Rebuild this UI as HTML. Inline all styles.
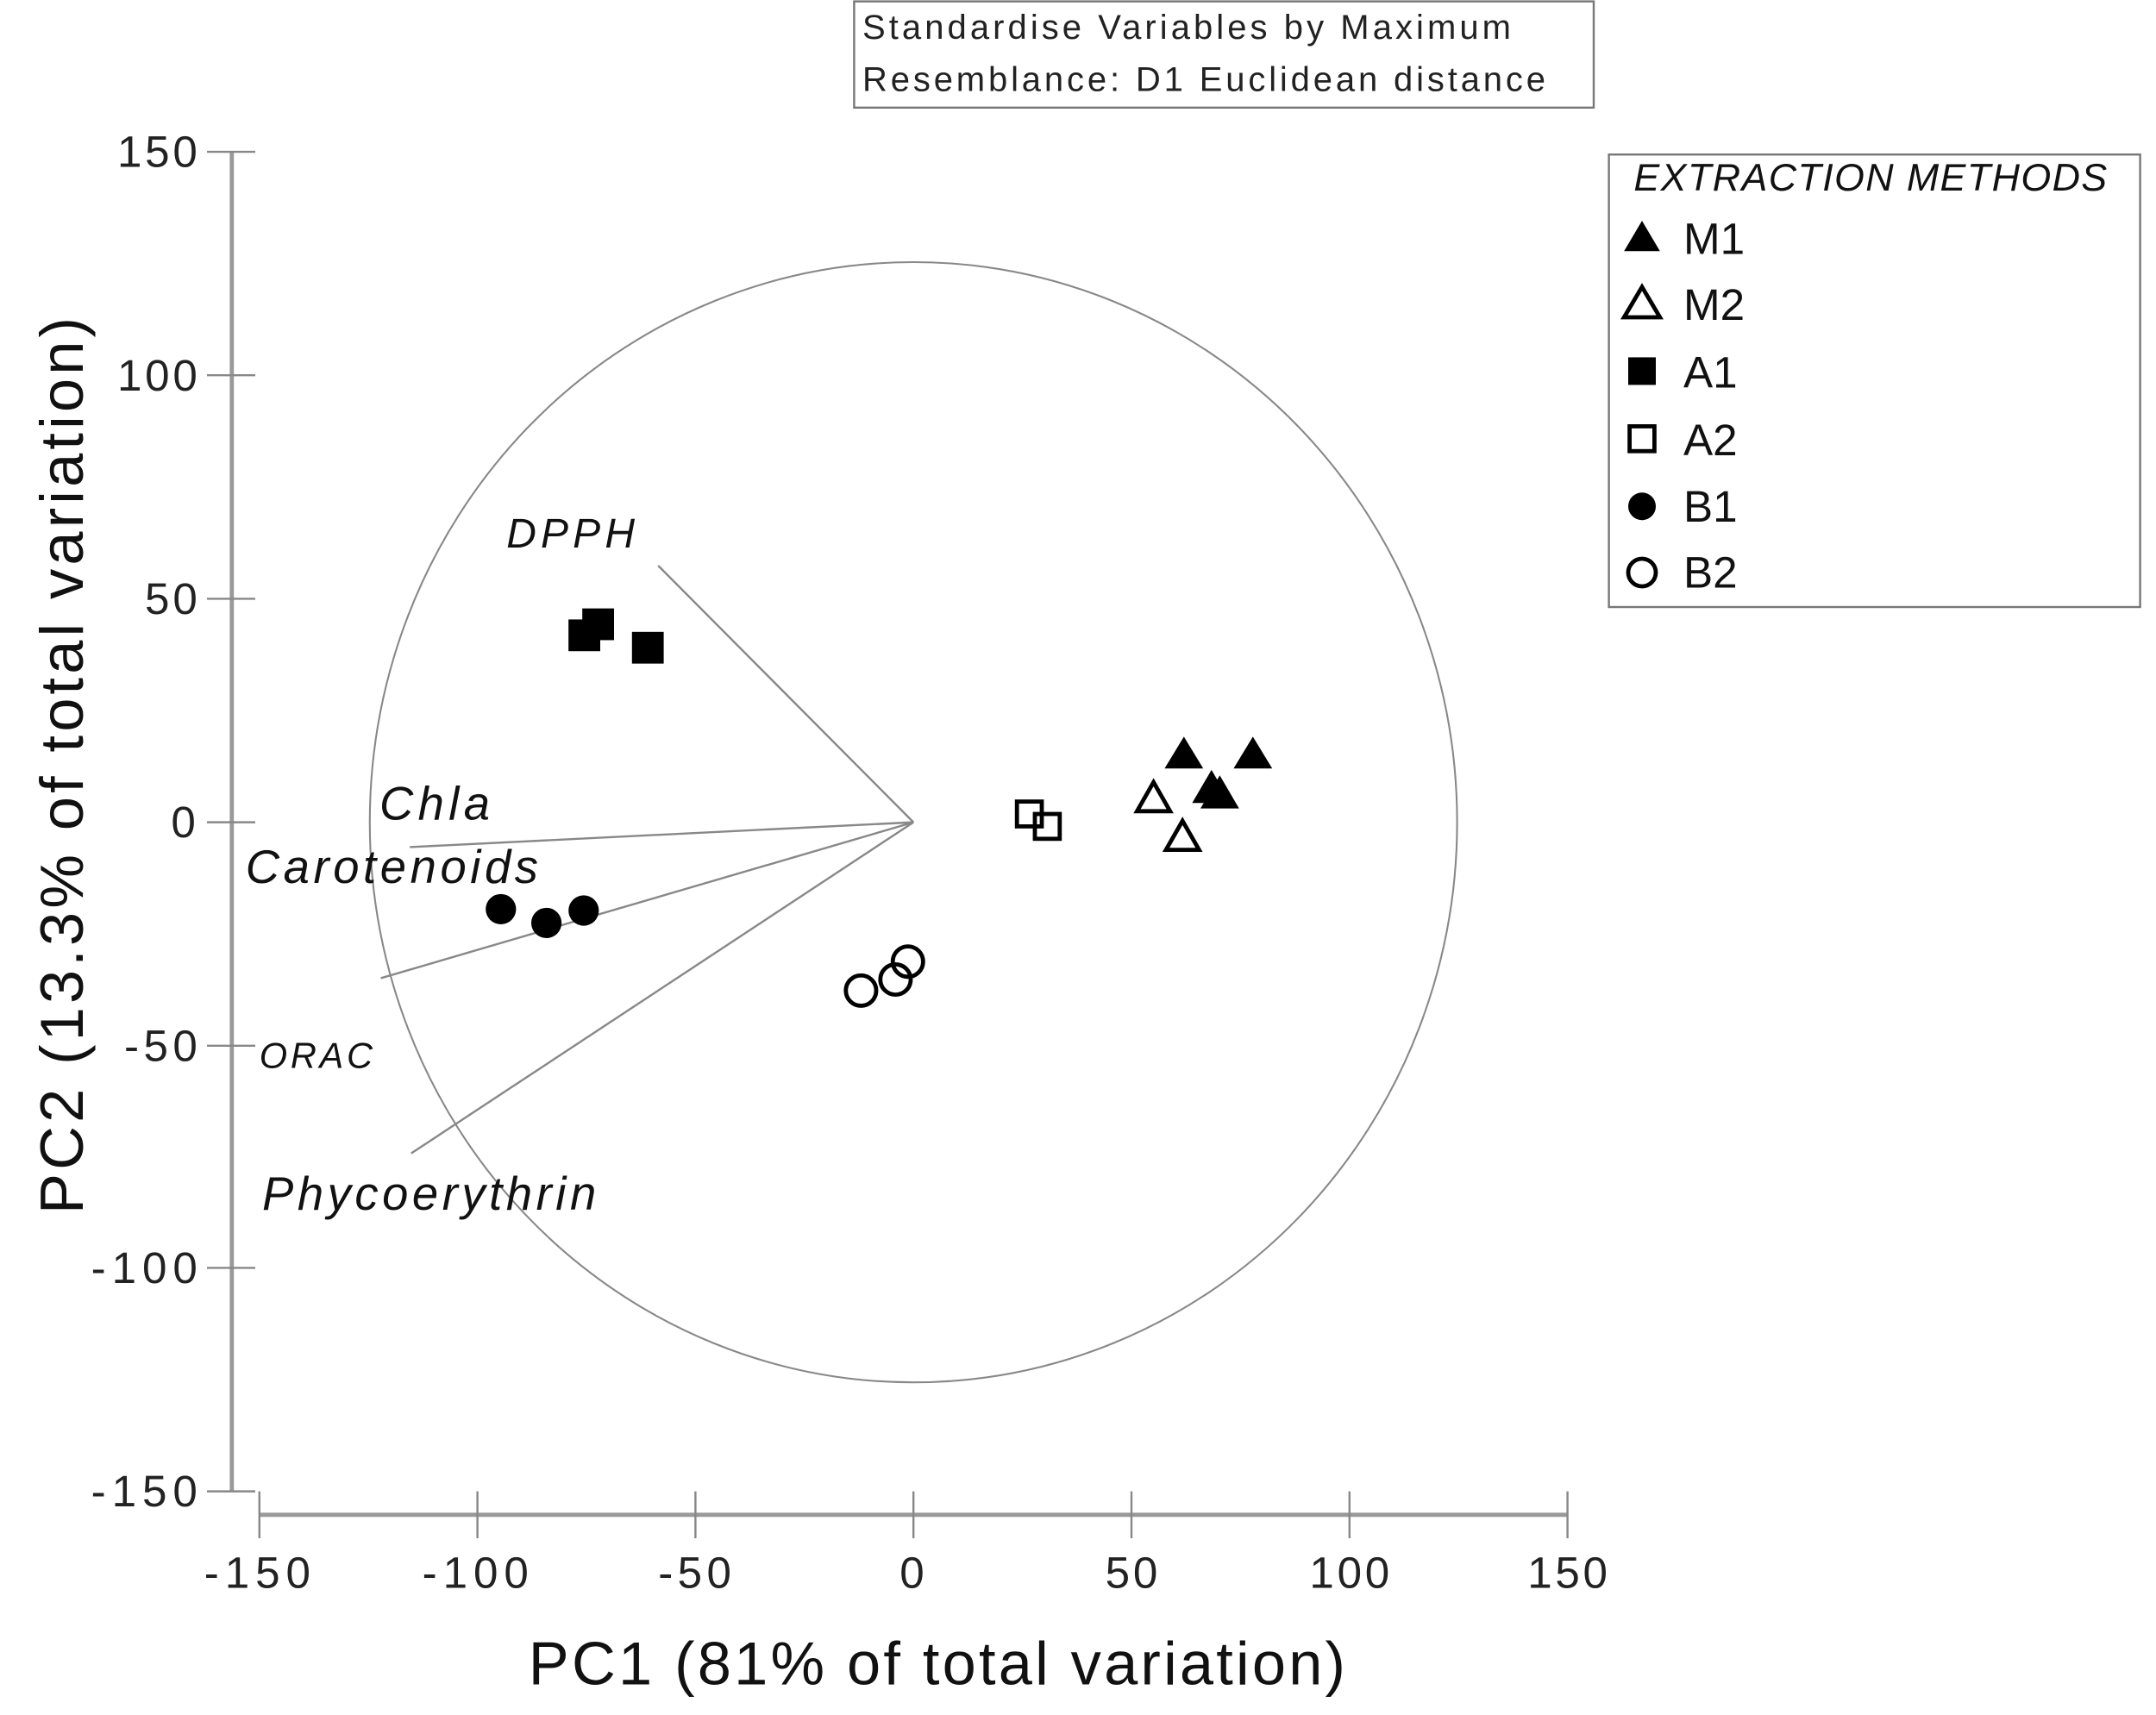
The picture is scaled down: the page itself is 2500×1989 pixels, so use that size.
<!DOCTYPE html>
<html><head><meta charset="utf-8"><style>html,body{margin:0;padding:0;background:#fff}svg{display:block}</style></head>
<body>
<svg width="2500" height="1989" viewBox="0 0 1562.5 1243.1" xmlns="http://www.w3.org/2000/svg" font-family="Liberation Sans, Arial, sans-serif">
<rect width="1562.5" height="1243.1" fill="#fff"/>
<rect x="619" y="1" width="536" height="77" fill="#fff" stroke="#777" stroke-width="1.5"/>
<text x="625" y="28" font-size="25" fill="#222" textLength="470">Standardise Variables by Maximum</text>
<text x="625" y="66" font-size="25" fill="#222" textLength="495">Resemblance: D1 Euclidean distance</text>
<rect x="1166" y="112" width="385" height="328" fill="#fff" stroke="#777" stroke-width="1.5"/>
<text x="1184" y="138" font-size="28" font-style="italic" fill="#111" textLength="343">EXTRACTION METHODS</text>
<g font-size="32" fill="#111">
<polygon points="1190,160 1203,182 1177,182" fill="#000"/><text x="1220" y="184">M1</text>
<polygon points="1190,208 1203,230 1177,230" fill="#fff" stroke="#000" stroke-width="3"/><text x="1220" y="232">M2</text>
<rect x="1180" y="259" width="20" height="20" fill="#000"/><text x="1220" y="281">A1</text>
<rect x="1181" y="309" width="18" height="18" fill="#fff" stroke="#000" stroke-width="3"/><text x="1220" y="330">A2</text>
<circle cx="1190" cy="367" r="10" fill="#000"/><text x="1220" y="378">B1</text>
<circle cx="1190" cy="415" r="10" fill="#fff" stroke="#000" stroke-width="3"/><text x="1220" y="426">B2</text>
</g>
<g stroke="#999" fill="none">
<line x1="168" y1="110" x2="168" y2="1081" stroke-width="3"/>
<line x1="188" y1="1098" x2="1136" y2="1098" stroke-width="3"/>
<g stroke-width="1.5" stroke="#888">
<line x1="150" y1="110" x2="185" y2="110"/><line x1="150" y1="272" x2="185" y2="272"/>
<line x1="150" y1="434" x2="185" y2="434"/><line x1="150" y1="596" x2="185" y2="596"/>
<line x1="150" y1="758" x2="185" y2="758"/><line x1="150" y1="919" x2="185" y2="919"/>
<line x1="150" y1="1081" x2="185" y2="1081"/>
<line x1="188" y1="1081" x2="188" y2="1115"/><line x1="346" y1="1081" x2="346" y2="1115"/>
<line x1="504" y1="1081" x2="504" y2="1115"/><line x1="662" y1="1081" x2="662" y2="1115"/>
<line x1="820" y1="1081" x2="820" y2="1115"/><line x1="978" y1="1081" x2="978" y2="1115"/>
<line x1="1136" y1="1081" x2="1136" y2="1115"/>
</g></g>
<g font-size="32" fill="#222">
<text x="85" y="121" textLength="58">150</text><text x="85" y="283" textLength="58">100</text><text x="105" y="445" textLength="38">50</text>
<text x="124" y="607" textLength="19">0</text><text x="90" y="769" textLength="53">-50</text><text x="66" y="930" textLength="77">-100</text><text x="66" y="1092" textLength="77">-150</text>
</g>
<g font-size="32" fill="#222">
<text x="148" y="1151" textLength="77">-150</text><text x="306" y="1151" textLength="77">-100</text><text x="477" y="1151" textLength="53">-50</text>
<text x="652" y="1151" textLength="19">0</text><text x="801" y="1151" textLength="38">50</text><text x="949" y="1151" textLength="58">100</text><text x="1107" y="1151" textLength="58">150</text>
</g>
<text x="383" y="1221" font-size="44" fill="#111" textLength="592">PC1 (81% of total variation)</text>
<text transform="translate(60,880) rotate(-90)" font-size="44" fill="#111" textLength="650">PC2 (13.3% of total variation)</text>
<ellipse cx="662" cy="596" rx="394" ry="406" fill="none" stroke="#888" stroke-width="1.3"/>
<g stroke="#888" stroke-width="1.5">
<line x1="662" y1="596" x2="477" y2="410"/>
<line x1="662" y1="596" x2="297" y2="614"/>
<line x1="662" y1="596" x2="276" y2="709"/>
<line x1="662" y1="596" x2="298" y2="836"/>
</g>
<g font-style="italic" fill="#111">
<text x="367" y="397" font-size="30" textLength="93">DPPH</text>
<text x="275" y="594" font-size="34" textLength="80">Chla</text>
<text x="178" y="640" font-size="34" textLength="212">Carotenoids</text>
<text x="188" y="774" font-size="26" textLength="82">ORAC</text>
<text x="190" y="877" font-size="34" textLength="242">Phycoerythrin</text>
</g>
<g fill="#000">
<rect x="412" y="449" width="23" height="23"/><rect x="422" y="441" width="23" height="23"/><rect x="458" y="458" width="23" height="23"/>
<polygon points="858,534 872,557 844,557"/><polygon points="908,534 922,557 894,557"/>
<polygon points="878,558 892,582 864,582"/><polygon points="884,562 898,586 870,586"/>
<circle cx="363" cy="659" r="11"/><circle cx="396" cy="669" r="11"/><circle cx="423" cy="660" r="11"/>
</g>
<g fill="none" stroke="#000" stroke-width="3">
<polygon points="836,567 848,588 824,588"/><polygon points="857,595 869,616 845,616"/>
<rect x="737" y="581" width="18" height="18"/><rect x="750" y="590" width="18" height="18"/>
<circle cx="624" cy="718" r="11"/><circle cx="649" cy="710" r="11"/><circle cx="658" cy="697" r="11"/>
</g>
</svg>
</body></html>
